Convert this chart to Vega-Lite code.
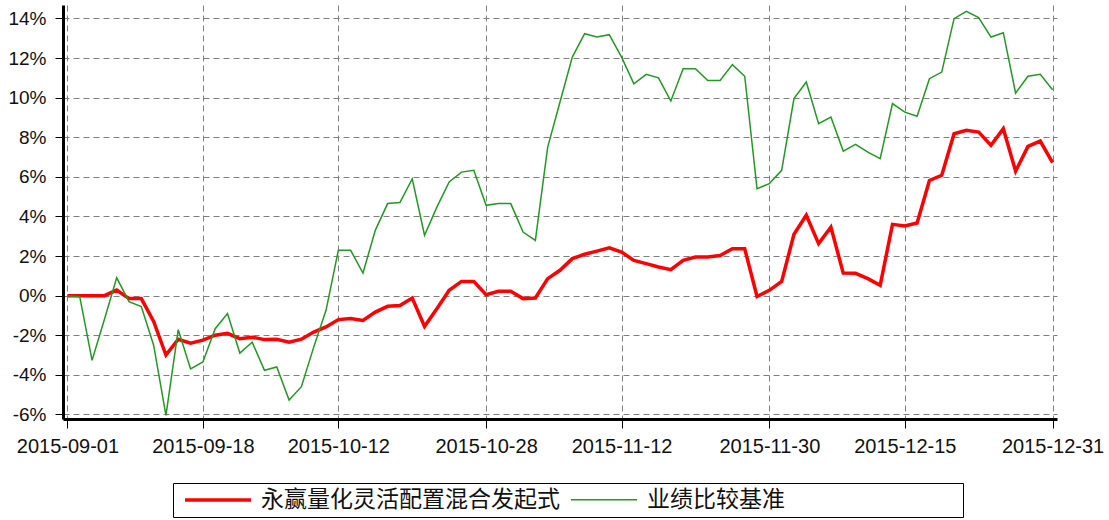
{
  "$schema": "https://vega.github.io/schema/vega-lite/v6.json",
  "autosize": {"type": "none"},
  "width": 994,
  "height": 414,
  "padding": {"left": 63, "top": 5, "right": 52, "bottom": 101},
  "background": "white",
  "config": {
    "view": {"stroke": null},
    "legend": {
      "orient": "none", "legendX": 110, "legendY": 478,
      "direction": "horizontal", "columns": 2, "columnPadding": 4,
      "titleOrient": "right", "titlePadding": 173, "titleFontSize": 10,
      "labelFont": "Noto Sans CJK SC", "labelFontSize": 23, "labelColor": "#111111",
      "labelOffset": 59, "labelLimit": 600,
      "symbolType": "M-0.5,0H6.1", "symbolSize": 400,
      "strokeColor": "#000000", "fillColor": "#ffffff", "padding": 5
    }
  },
  "data": {"values": [
    {"date": "2015-09-01", "fund": 0, "bench": 0},
    {"date": "2015-09-02", "fund": 0, "bench": -0.05},
    {"date": "2015-09-07", "fund": 0, "bench": -3.27},
    {"date": "2015-09-08", "fund": 0, "bench": -1.2},
    {"date": "2015-09-09", "fund": 0.28, "bench": 0.9},
    {"date": "2015-09-10", "fund": -0.15, "bench": -0.3},
    {"date": "2015-09-11", "fund": -0.15, "bench": -0.55},
    {"date": "2015-09-14", "fund": -1.3, "bench": -2.5},
    {"date": "2015-09-15", "fund": -3.0, "bench": -6.05},
    {"date": "2015-09-16", "fund": -2.2, "bench": -1.72},
    {"date": "2015-09-17", "fund": -2.4, "bench": -3.7},
    {"date": "2015-09-18", "fund": -2.25, "bench": -3.35},
    {"date": "2015-09-21", "fund": -2.0, "bench": -1.67},
    {"date": "2015-09-22", "fund": -1.9, "bench": -0.9},
    {"date": "2015-09-23", "fund": -2.17, "bench": -2.9},
    {"date": "2015-09-24", "fund": -2.1, "bench": -2.35},
    {"date": "2015-09-25", "fund": -2.22, "bench": -3.77},
    {"date": "2015-09-28", "fund": -2.2, "bench": -3.6},
    {"date": "2015-09-29", "fund": -2.35, "bench": -5.27},
    {"date": "2015-09-30", "fund": -2.2, "bench": -4.6},
    {"date": "2015-10-08", "fund": -1.84, "bench": -2.6},
    {"date": "2015-10-09", "fund": -1.58, "bench": -0.74},
    {"date": "2015-10-12", "fund": -1.21, "bench": 2.29},
    {"date": "2015-10-13", "fund": -1.15, "bench": 2.29},
    {"date": "2015-10-14", "fund": -1.25, "bench": 1.14},
    {"date": "2015-10-15", "fund": -0.83, "bench": 3.3},
    {"date": "2015-10-16", "fund": -0.54, "bench": 4.65},
    {"date": "2015-10-19", "fund": -0.5, "bench": 4.7},
    {"date": "2015-10-20", "fund": -0.12, "bench": 5.9},
    {"date": "2015-10-21", "fund": -1.55, "bench": 3.05},
    {"date": "2015-10-22", "fund": -0.66, "bench": 4.47},
    {"date": "2015-10-23", "fund": 0.27, "bench": 5.74},
    {"date": "2015-10-26", "fund": 0.72, "bench": 6.24},
    {"date": "2015-10-27", "fund": 0.72, "bench": 6.33},
    {"date": "2015-10-28", "fund": 0.05, "bench": 4.56},
    {"date": "2015-10-29", "fund": 0.22, "bench": 4.65},
    {"date": "2015-10-30", "fund": 0.22, "bench": 4.65},
    {"date": "2015-11-02", "fund": -0.15, "bench": 3.21},
    {"date": "2015-11-03", "fund": -0.12, "bench": 2.79},
    {"date": "2015-11-04", "fund": 0.86, "bench": 7.5},
    {"date": "2015-11-05", "fund": 1.28, "bench": 9.78},
    {"date": "2015-11-06", "fund": 1.87, "bench": 12.05},
    {"date": "2015-11-09", "fund": 2.09, "bench": 13.23},
    {"date": "2015-11-10", "fund": 2.25, "bench": 13.06},
    {"date": "2015-11-11", "fund": 2.42, "bench": 13.18},
    {"date": "2015-11-12", "fund": 2.2, "bench": 12.05},
    {"date": "2015-11-13", "fund": 1.78, "bench": 10.7},
    {"date": "2015-11-16", "fund": 1.62, "bench": 11.18},
    {"date": "2015-11-17", "fund": 1.45, "bench": 11.0},
    {"date": "2015-11-18", "fund": 1.31, "bench": 9.83},
    {"date": "2015-11-19", "fund": 1.78, "bench": 11.46},
    {"date": "2015-11-20", "fund": 1.95, "bench": 11.46},
    {"date": "2015-11-23", "fund": 1.95, "bench": 10.87},
    {"date": "2015-11-24", "fund": 2.03, "bench": 10.87},
    {"date": "2015-11-25", "fund": 2.37, "bench": 11.67},
    {"date": "2015-11-26", "fund": 2.37, "bench": 11.08},
    {"date": "2015-11-27", "fund": -0.04, "bench": 5.4},
    {"date": "2015-11-30", "fund": 0.27, "bench": 5.66},
    {"date": "2015-12-01", "fund": 0.72, "bench": 6.33},
    {"date": "2015-12-02", "fund": 3.1, "bench": 9.95},
    {"date": "2015-12-03", "fund": 4.06, "bench": 10.79},
    {"date": "2015-12-04", "fund": 2.63, "bench": 8.69},
    {"date": "2015-12-07", "fund": 3.46, "bench": 9.02},
    {"date": "2015-12-08", "fund": 1.14, "bench": 7.3},
    {"date": "2015-12-09", "fund": 1.13, "bench": 7.64},
    {"date": "2015-12-10", "fund": 0.86, "bench": 7.25},
    {"date": "2015-12-11", "fund": 0.52, "bench": 6.92},
    {"date": "2015-12-14", "fund": 3.6, "bench": 9.7},
    {"date": "2015-12-15", "fund": 3.52, "bench": 9.27},
    {"date": "2015-12-16", "fund": 3.67, "bench": 9.06},
    {"date": "2015-12-17", "fund": 5.82, "bench": 10.96},
    {"date": "2015-12-18", "fund": 6.08, "bench": 11.29},
    {"date": "2015-12-21", "fund": 8.18, "bench": 13.99},
    {"date": "2015-12-22", "fund": 8.35, "bench": 14.36},
    {"date": "2015-12-23", "fund": 8.26, "bench": 14.04},
    {"date": "2015-12-24", "fund": 7.59, "bench": 13.06},
    {"date": "2015-12-25", "fund": 8.43, "bench": 13.28},
    {"date": "2015-12-28", "fund": 6.29, "bench": 10.23},
    {"date": "2015-12-29", "fund": 7.54, "bench": 11.08},
    {"date": "2015-12-30", "fund": 7.81, "bench": 11.18},
    {"date": "2015-12-31", "fund": 6.72, "bench": 10.4}
  ]},
  "transform": [{"fold": ["fund", "bench"], "as": ["series", "value"]}],
  "mark": {"type": "line", "interpolate": "linear", "strokeCap": "butt", "strokeJoin": "miter"},
  "encoding": {
    "x": {
      "field": "date", "type": "ordinal",
      "scale": {"type": "point", "padding": 0.36},
      "axis": {
        "title": null,
        "values": ["2015-09-01", "2015-09-18", "2015-10-12", "2015-10-28", "2015-11-12", "2015-11-30", "2015-12-15", "2015-12-31"],
        "labelAngle": 0,
        "labelFont": "Liberation Sans", "labelFontSize": 20, "labelColor": "#111111",
        "labelPadding": 8, "labelFlush": false,
        "domainColor": "#000000", "domainWidth": 3,
        "tickColor": "#000000", "tickSize": 9, "tickWidth": 1,
        "grid": true, "gridColor": "#808080", "gridDash": [6, 4], "gridWidth": 1
      }
    },
    "y": {
      "field": "value", "type": "quantitative",
      "scale": {"domain": [-6.23, 14.68], "nice": false, "zero": false},
      "axis": {
        "title": null,
        "values": [-6, -4, -2, 0, 2, 4, 6, 8, 10, 12, 14],
        "labelExpr": "datum.value + '%'",
        "labelFont": "Liberation Sans", "labelFontSize": 19, "labelColor": "#111111",
        "labelPadding": 9,
        "domainColor": "#000000", "domainWidth": 3,
        "tickColor": "#000000", "tickSize": 8, "tickWidth": 1,
        "grid": true, "gridColor": "#808080", "gridDash": [6, 4], "gridWidth": 1
      }
    },
    "color": {
      "field": "series", "type": "nominal",
      "scale": {"domain": ["fund", "bench"], "range": ["#FF0000", "#229922"]},
      "legend": {
        "title": " ",
        "labelExpr": "datum.value == 'fund' ? '永赢量化灵活配置混合发起式' : '业绩比较基准'"
      }
    },
    "strokeWidth": {
      "field": "series", "type": "nominal",
      "scale": {"domain": ["fund", "bench"], "range": [3.5, 1.5]},
      "legend": {
        "title": " ",
        "labelExpr": "datum.value == 'fund' ? '永赢量化灵活配置混合发起式' : '业绩比较基准'"
      }
    }
  }
}
